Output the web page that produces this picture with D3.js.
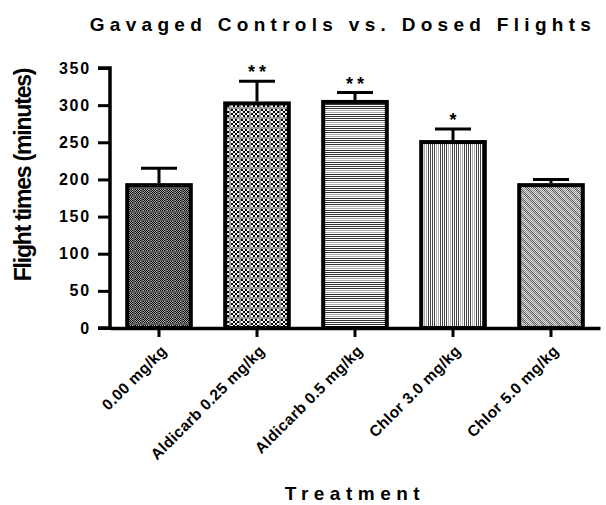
<!DOCTYPE html>
<html>
<head>
<meta charset="utf-8">
<script src="https://cdn.jsdelivr.net/npm/d3@7"></script>
<style>
  body { margin: 0; background: white; }
  text { font-family: "Liberation Sans", Arial, sans-serif; font-weight: bold; }
</style>
</head>
<body>
<div class="chart"></div>
<script>
const treatments = ["0.00 mg/kg", "Aldicarb 0.25 mg/kg", "Aldicarb 0.5 mg/kg", "Chlor 3.0 mg/kg", "Chlor 5.0 mg/kg"];
const means = [195, 305, 307, 253, 195];
const errors = [20, 27, 10, 15, 5];
const stars = ["", "**", "**", "*", ""];
const yTicks = [0, 50, 100, 150, 200, 250, 300, 350];

const W = 606, H = 505;
const margin = { top: 68, right: 6, bottom: 177, left: 110 };
const width = W - margin.left - margin.right;
const height = H - margin.top - margin.bottom;

const data = treatments.map((t, i) => ({ t, mean: means[i], err: errors[i], star: stars[i], i }));

const svg = d3.select(".chart").append("svg")
    .attr("width", W)
    .attr("height", H);

// fill patterns, one per bar
const defs = svg.append("defs");
function pat(id, w, h) {
    return defs.append("pattern").attr("id", id)
        .attr("patternUnits", "userSpaceOnUse")
        .attr("width", w).attr("height", h)
        .attr("shape-rendering", "crispEdges");
}
function px(p, x, y, c) {
    p.append("rect").attr("x", x).attr("y", y).attr("width", 1).attr("height", 1).attr("fill", c);
}
// 1: fine dark checker with grey grid
let p = pat("p0", 8, 8);
p.append("rect").attr("width", 8).attr("height", 8).attr("fill", "#5a5a5a");
for (let r = 0; r < 6; r++) for (let c = 0; c < 6; c++)
    px(p, c + 1, r + 1, (r + c) % 2 == 0 ? "#000" : "#aaa");
// 2: black/white checker with grey grid
p = pat("p1", 10, 10);
p.append("rect").attr("width", 10).attr("height", 10).attr("fill", "#999");
for (let r = 0; r < 4; r++) for (let c = 0; c < 4; c++)
    p.append("rect").attr("x", c * 2 + 1).attr("y", r * 2 + 1).attr("width", 2).attr("height", 2)
        .attr("fill", (r + c) % 2 == 0 ? "#000" : "#fff");
// 3: horizontal lines
p = pat("p2", 4, 12);
p.append("rect").attr("width", 4).attr("height", 12).attr("fill", "#fff");
[0, 2, 4, 6, 8, 10].forEach((y, k) => p.append("rect").attr("y", y).attr("width", 4).attr("height", 1)
    .attr("fill", k == 3 || k == 4 ? "#aaa" : "#333"));
// 4: vertical lines
p = pat("p3", 12, 4);
p.append("rect").attr("width", 12).attr("height", 4).attr("fill", "#fff");
[0, 2, 4, 6, 8, 10].forEach((x, k) => p.append("rect").attr("x", x).attr("width", 1).attr("height", 4)
    .attr("fill", k == 1 || k == 2 ? "#aaa" : "#444"));
// 5: light diagonal hatch
p = pat("p4", 8, 8);
p.append("rect").attr("width", 8).attr("height", 8).attr("fill", "#d4d4d4");
for (let r = 0; r < 8; r++) for (let c = 0; c < 8; c++)
    if ((r + c) % 2 == 0) px(p, c, r, ((c - r + 8) % 8) < 4 ? "#555" : "#999");

const g = svg.append("g").attr("transform", `translate(${margin.left},${margin.top})`);

const x = d3.scaleBand().domain(treatments).range([0, width]).paddingInner(0.31).paddingOuter(0.155);
const y = d3.scaleLinear().domain([0, 350]).range([height, 0]);

// bars
g.selectAll(".bar").data(data).enter().append("rect")
    .attr("x", d => x(d.t) + 2)
    .attr("y", d => y(d.mean) + 2)
    .attr("width", x.bandwidth() - 4)
    .attr("height", d => height - y(d.mean) - 2)
    .attr("fill", d => `url(#p${d.i})`)
    .attr("stroke", "black")
    .attr("stroke-width", 4);

// error bars (upper only)
const capW = 36;
g.selectAll(".err").data(data).enter().append("line")
    .attr("x1", d => x(d.t) + x.bandwidth() / 2)
    .attr("x2", d => x(d.t) + x.bandwidth() / 2)
    .attr("y1", d => y(d.mean))
    .attr("y2", d => y(d.mean + d.err))
    .attr("stroke", "black").attr("stroke-width", 3);
g.selectAll(".cap").data(data).enter().append("line")
    .attr("x1", d => x(d.t) + x.bandwidth() / 2 - capW / 2)
    .attr("x2", d => x(d.t) + x.bandwidth() / 2 + capW / 2)
    .attr("y1", d => y(d.mean + d.err))
    .attr("y2", d => y(d.mean + d.err))
    .attr("stroke", "black").attr("stroke-width", 3);

// significance stars
g.selectAll(".star").data(data).enter().append("text")
    .text(d => d.star)
    .attr("x", d => x(d.t) + x.bandwidth() / 2 + 2)
    .attr("y", d => y(d.mean + d.err) - 3)
    .attr("text-anchor", "middle")
    .attr("font-size", 18)
    .attr("letter-spacing", 4);

// y axis
const yAxis = d3.axisLeft(y).tickValues(yTicks).tickSize(12).tickPadding(7);
const ya = g.append("g").call(yAxis);
ya.select(".domain").attr("stroke-width", 3.5).attr("d", `M-12,0H0V${height}H-12`);
ya.selectAll(".tick line").attr("stroke-width", 3);
ya.selectAll(".tick text").attr("font-size", 16).attr("letter-spacing", 1.8).attr("fill", "black")
    .attr("font-family", "Liberation Sans, Arial, sans-serif").attr("font-weight", "bold");

// x axis
const xAxis = d3.axisBottom(x).tickSize(9).tickSizeOuter(0).tickPadding(6);
const xa = g.append("g").attr("transform", `translate(0,${height})`).call(xAxis);
xa.select(".domain").attr("stroke-width", 3.5);
xa.selectAll(".tick line").attr("stroke-width", 3);
xa.selectAll(".tick text")
    .attr("font-size", 15.5).attr("letter-spacing", 0.4).attr("fill", "black")
    .attr("font-family", "Liberation Sans, Arial, sans-serif").attr("font-weight", "bold")
    .attr("text-anchor", "end")
    .attr("transform", "translate(5,20) rotate(-45)")
    .attr("dy", "0.35em").attr("y", 0).attr("x", 0);

// titles
svg.append("text")
    .text("Gavaged Controls vs. Dosed Flights")
    .attr("x", 343).attr("y", 31)
    .attr("text-anchor", "middle")
    .attr("font-size", 19)
    .attr("letter-spacing", 5.3);

svg.append("text")
    .text("Treatment")
    .attr("x", 355).attr("y", 500)
    .attr("text-anchor", "middle")
    .attr("font-size", 19)
    .attr("letter-spacing", 5.5);

svg.append("text")
    .text("Flight times (minutes)")
    .attr("transform", "translate(31,175) rotate(-90)")
    .attr("text-anchor", "middle")
    .attr("font-size", 23)
    .attr("letter-spacing", -1.2);
</script>
</body>
</html>
